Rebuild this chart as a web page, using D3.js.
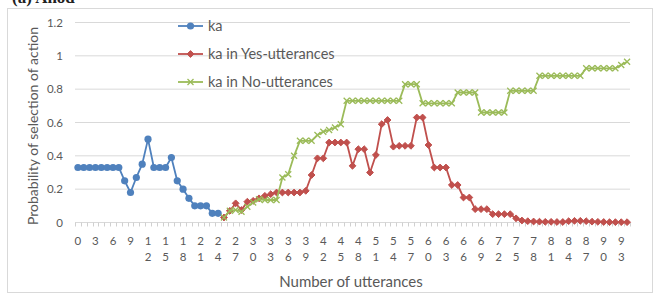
<!DOCTYPE html>
<meta charset="utf-8">
<script src="https://d3js.org/d3.v7.min.js"></script>
<style>
  body { margin: 0; background: #fff; }
  text { font-family: Lato, "Open Sans", sans-serif; }
</style>
<div id="chart"></div>
<script>
// x tick labels (every 3rd utterance)
const tickLabels = ["0","3","6","9","12","15","18","21","24","27","30","33","36","39","42","45",
  "48","51","54","57","60","63","66","69","72","75","78","81","84","87","90","93"];
const yTicks = [0, 0.2, 0.4, 0.6, 0.8, 1, 1.2];

// ka: utterances 0..24
const kaStart = 0;
const kaValues = [0.33,0.33,0.33,0.33,0.33,0.33,0.33,0.33,0.25,0.18,0.27,0.35,0.50,0.33,0.33,0.33,
  0.39,0.25,0.20,0.145,0.10,0.10,0.10,0.055,0.055];

// ka in Yes-utterances: utterances 25..94
const yesStart = 25;
const yesValues = [0.03,0.07,0.115,0.075,0.125,0.13,0.145,0.16,0.17,0.18,0.18,0.18,0.18,0.18,0.19,
  0.285,0.385,0.385,0.48,0.48,0.48,0.48,0.34,0.44,0.44,0.30,0.405,0.59,0.615,0.455,0.46,0.46,0.46,
  0.63,0.63,0.465,0.33,0.33,0.33,0.225,0.225,0.15,0.15,0.08,0.08,0.08,0.05,0.05,0.05,0.05,0.025,
  0.012,0.008,0.006,0.005,0.004,0.004,0.003,0.003,0.008,0.01,0.01,0.008,0.005,0.004,0.003,0.002,
  0.002,0.002,0.002];

// ka in No-utterances: utterances 25..94
const noStart = 25;
const noValues = [0.03,0.07,0.075,0.065,0.095,0.12,0.14,0.135,0.135,0.135,0.27,0.29,0.40,0.49,0.49,
  0.49,0.525,0.545,0.555,0.57,0.59,0.73,0.73,0.73,0.73,0.73,0.73,0.73,0.73,0.73,0.73,0.83,0.83,0.83,
  0.715,0.715,0.715,0.715,0.715,0.715,0.78,0.78,0.78,0.78,0.66,0.66,0.66,0.66,0.66,0.79,0.79,0.79,
  0.79,0.79,0.88,0.88,0.88,0.88,0.88,0.88,0.88,0.88,0.925,0.925,0.925,0.925,0.925,0.925,0.945,0.965];

const nCats = 95;
const width = 661, height = 296;

const svg = d3.select("#chart").append("svg")
  .attr("width", width).attr("height", height);

// chart border
svg.append("rect")
  .attr("x", 7.5).attr("y", 8.5).attr("width", 645).attr("height", 284)
  .attr("fill", "none").attr("stroke", "#d9d9d9");

// title, cut off at the top edge as in the source figure
svg.append("text")
  .attr("x", 12).attr("y", 3)
  .style("font-family", "'Liberation Serif', serif")
  .style("font-weight", "bold").style("font-size", "17px")
  .attr("fill", "#222").text("(a) Ahod");

const x = d3.scaleLinear().domain([-0.5, nCats - 0.5]).range([75, 630]);
const y = d3.scaleLinear().domain([0, 1.2]).range([222.5, 22.5]);

// gridlines
svg.append("g").selectAll("line").data(yTicks.filter(d => d > 0)).enter()
  .append("line")
  .attr("x1", x(-0.5)).attr("x2", x(nCats - 0.5))
  .attr("y1", d => y(d)).attr("y2", d => y(d))
  .attr("stroke", "#d9d9d9").attr("stroke-width", 1);

// y labels
svg.append("g").selectAll("text").data(yTicks).enter()
  .append("text")
  .attr("x", 63).attr("y", d => y(d)).attr("dy", "0.35em")
  .attr("text-anchor", "end").attr("fill", "#595959")
  .style("font-size", "11.5px")
  .text(d => d);

// x axis line + category ticks
svg.append("line")
  .attr("x1", x(-0.5)).attr("x2", x(nCats - 0.5))
  .attr("y1", y(0)).attr("y2", y(0))
  .attr("stroke", "#d9d9d9");
svg.append("g").selectAll("line").data(d3.range(nCats + 1)).enter()
  .append("line")
  .attr("x1", d => Math.round(x(d - 0.5)) + 0.5).attr("x2", d => Math.round(x(d - 0.5)) + 0.5)
  .attr("y1", y(0)).attr("y2", y(0) + 4)
  .attr("stroke", "#d0d0d0");

// x labels: digits stacked
const xl = svg.append("g").selectAll("text").data(tickLabels).enter()
  .append("text")
  .attr("text-anchor", "middle").attr("fill", "#595959")
  .style("font-size", "11.5px");
xl.each(function(d) {
  const t = d3.select(this);
  const cx = x(+d);
  d.split("").forEach((c, i) => {
    t.append("tspan").attr("x", cx).attr("y", 245 + i * 16).text(c);
  });
});

// axis titles
svg.append("text")
  .attr("x", 351).attr("y", 287)
  .attr("text-anchor", "middle").attr("fill", "#595959")
  .style("font-size", "15px")
  .text("Number of utterances");
svg.append("text")
  .attr("transform", "translate(38,126) rotate(-90)")
  .attr("text-anchor", "middle").attr("fill", "#595959")
  .style("font-size", "14px")
  .text("Probability of selection of action");

const series = [
  { name: "ka", start: kaStart, values: kaValues, color: "#4f81bd", marker: "circle" },
  { name: "ka in Yes-utterances", start: yesStart, values: yesValues, color: "#c0504d", marker: "diamond" },
  { name: "ka in No-utterances", start: noStart, values: noValues, color: "#9bbb59", marker: "x" }
];

const line = d3.line().x(d => x(d[0])).y(d => y(d[1]));

function drawMarker(g, type, color) {
  if (type === "circle") {
    g.append("circle").attr("r", 3.6).attr("fill", color);
  } else if (type === "diamond") {
    g.append("path").attr("d", "M0,-3.4L3.4,0L0,3.4L-3.4,0Z").attr("fill", color)
      .attr("stroke", color).attr("stroke-width", 1);
  } else {
    g.append("path").attr("d", "M-3,-3L3,3M-3,3L3,-3")
      .attr("stroke", color).attr("stroke-width", 1.3).attr("fill", "none");
  }
}

series.forEach(s => {
  const pts = s.values.map((v, i) => [s.start + i, v]);
  svg.append("path").datum(pts)
    .attr("d", line).attr("fill", "none")
    .attr("stroke", s.color).attr("stroke-width", 1.8);
  svg.append("g").selectAll("g").data(pts).enter()
    .append("g")
    .attr("transform", d => `translate(${x(d[0])},${y(d[1])})`)
    .each(function() { drawMarker(d3.select(this), s.marker, s.color); });
});

// legend
const legend = svg.append("g").selectAll("g").data(series).enter()
  .append("g")
  .attr("transform", (d, i) => `translate(178,${26 + i * 28})`);
legend.append("line").attr("x1", 0).attr("x2", 25)
  .attr("stroke", d => d.color).attr("stroke-width", 1.8);
legend.append("g").attr("transform", "translate(12.5,0)")
  .each(function(d) { drawMarker(d3.select(this), d.marker, d.color); });
legend.append("text").attr("x", 30).attr("dy", "0.35em")
  .attr("fill", "#595959").style("font-size", "14.5px")
  .text(d => d.name);
</script>
